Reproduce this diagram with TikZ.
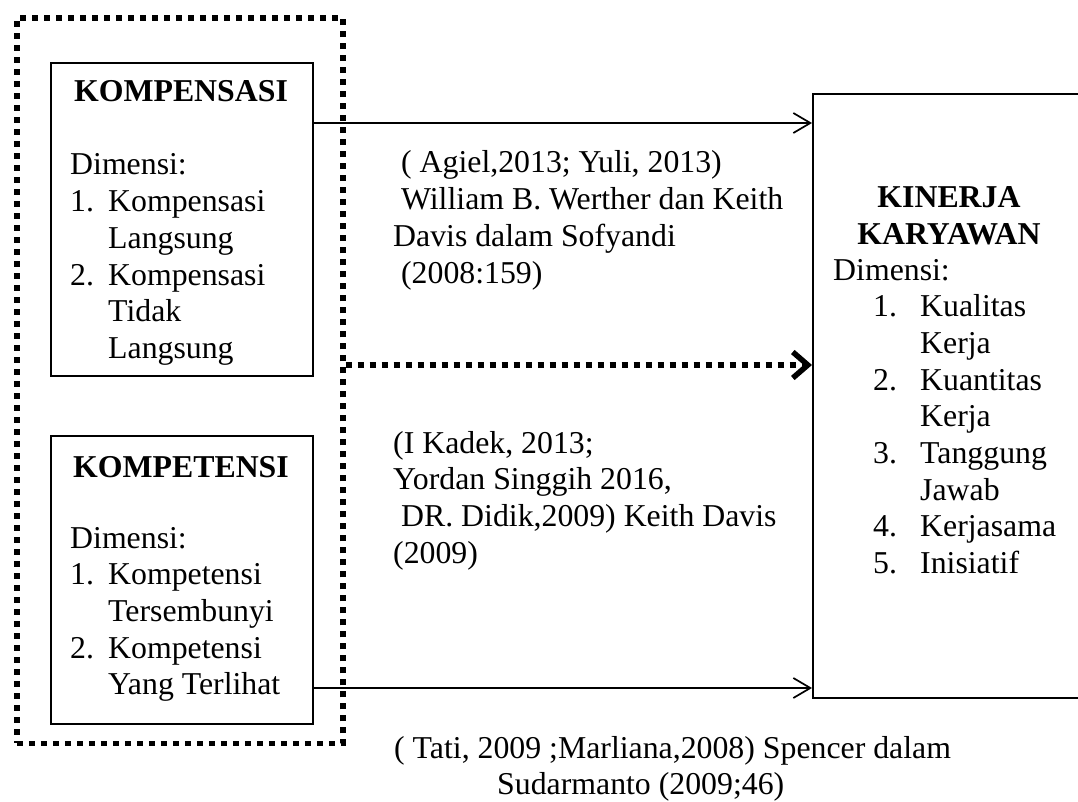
\documentclass[tikz,border=0pt]{standalone}
\usepackage{fontspec}
\setmainfont{Liberation Serif}
\usetikzlibrary{arrows.meta}
\begin{document}
\begin{tikzpicture}[x=1pt,y=-1pt,
  txt/.style={anchor=base west, inner sep=0pt, font=\fontsize{31.8}{36.7}\selectfont},
  ttl/.style={anchor=base, inner sep=0pt, font=\fontsize{31.8}{36.7}\selectfont\bfseries},
  box/.style={draw, line width=1.7pt, inner sep=0pt, anchor=north west},
  dotbox/.style={draw, line width=5.5pt, dash pattern=on 6pt off 6pt, inner sep=0pt, anchor=north west},
  arr/.style={line width=1.7pt, -{Straight Barb[length=17pt,width=20pt]}},
  dotarr/.style={line width=5.5pt, dash pattern=on 6pt off 6pt, -{Straight Barb[length=15pt,width=26pt,line width=5.5pt]}}]
\useasboundingbox (0,0) rectangle (1078,802);
\clip (0,0) rectangle (1078,802);

% boxes
\node[dotbox, minimum width=326pt, minimum height=725pt] (outer) at (14,15.5) {};
\node[box, minimum width=262pt, minimum height=313pt] (komp) at (50,62) {};
\node[box, minimum width=262pt, minimum height=288pt] (kompt) at (50,435) {};
\node[box, minimum width=280pt, minimum height=604pt] (kin) at (812,93) {};

% Kompensasi text
\node[ttl] (kompT) at (181,102) {KOMPENSASI};
\begin{scope}
\clip (40,120) rectangle (320,364);
\node[txt] (kompD) at (70,175) {\begin{tabular}[t]{@{}l@{}}
Dimensi:\\
\makebox[38pt][l]{1.}Kompensasi\\
\hspace*{38pt}Langsung\\
\makebox[38pt][l]{2.}Kompensasi\\
\hspace*{38pt}Tidak\\
\hspace*{38pt}Langsung
\end{tabular}};
\end{scope}

% Kompetensi text
\node[ttl] (kompetT) at (181,477) {KOMPETENSI};
\node[txt] (kompetD) at (70,548) {\begin{tabular}[t]{@{}l@{}}
Dimensi:\\
\makebox[38pt][l]{1.}Kompetensi\\
\hspace*{38pt}Tersembunyi\\
\makebox[38pt][l]{2.}Kompetensi\\
\hspace*{38pt}Yang Terlihat
\end{tabular}};

% Kinerja text
\node[ttl] (kinT) at (949,208) {\begin{tabular}[t]{@{}c@{}}KINERJA\\KARYAWAN\end{tabular}};
\node[txt] (kinD) at (833,280) {\begin{tabular}[t]{@{}l@{}}
Dimensi:\\
\hspace*{40pt}\makebox[47pt][l]{1.}Kualitas\\
\hspace*{87pt}Kerja\\
\hspace*{40pt}\makebox[47pt][l]{2.}Kuantitas\\
\hspace*{87pt}Kerja\\
\hspace*{40pt}\makebox[47pt][l]{3.}Tanggung\\
\hspace*{87pt}Jawab\\
\hspace*{40pt}\makebox[47pt][l]{4.}Kerjasama\\
\hspace*{40pt}\makebox[47pt][l]{5.}Inisiatif
\end{tabular}};

% citations
\node[txt] (citeA) at (393,173) {\begin{tabular}[t]{@{}l@{}}
\ ( Agiel,2013; Yuli, 2013)\\
\ William B. Werther dan Keith\\
Davis dalam Sofyandi\\
\ (2008:159)
\end{tabular}};
\node[txt] (citeB) at (393,453) {\begin{tabular}[t]{@{}l@{}}
(I Kadek, 2013;\\
Yordan Singgih 2016,\\
\ DR. Didik,2009) Keith Davis\\
(2009)
\end{tabular}};
\node[txt] (citeC) at (394,758) {\begin{tabular}[t]{@{}l@{}}
( Tati, 2009 ;Marliana,2008) Spencer dalam\\
\hspace*{103pt}Sudarmanto (2009;46)
\end{tabular}};

% connectors
\coordinate (ya) at (0,123);
\coordinate (yb) at (0,365);
\coordinate (yc) at (0,688);
\draw[arr] (komp.east |- ya) -- (kin.west |- ya);
\draw[dotarr] (outer.east |- yb) -- (kin.west |- yb);
\draw[arr] (kompt.east |- yc) -- (kin.west |- yc);
\end{tikzpicture}
\end{document}
